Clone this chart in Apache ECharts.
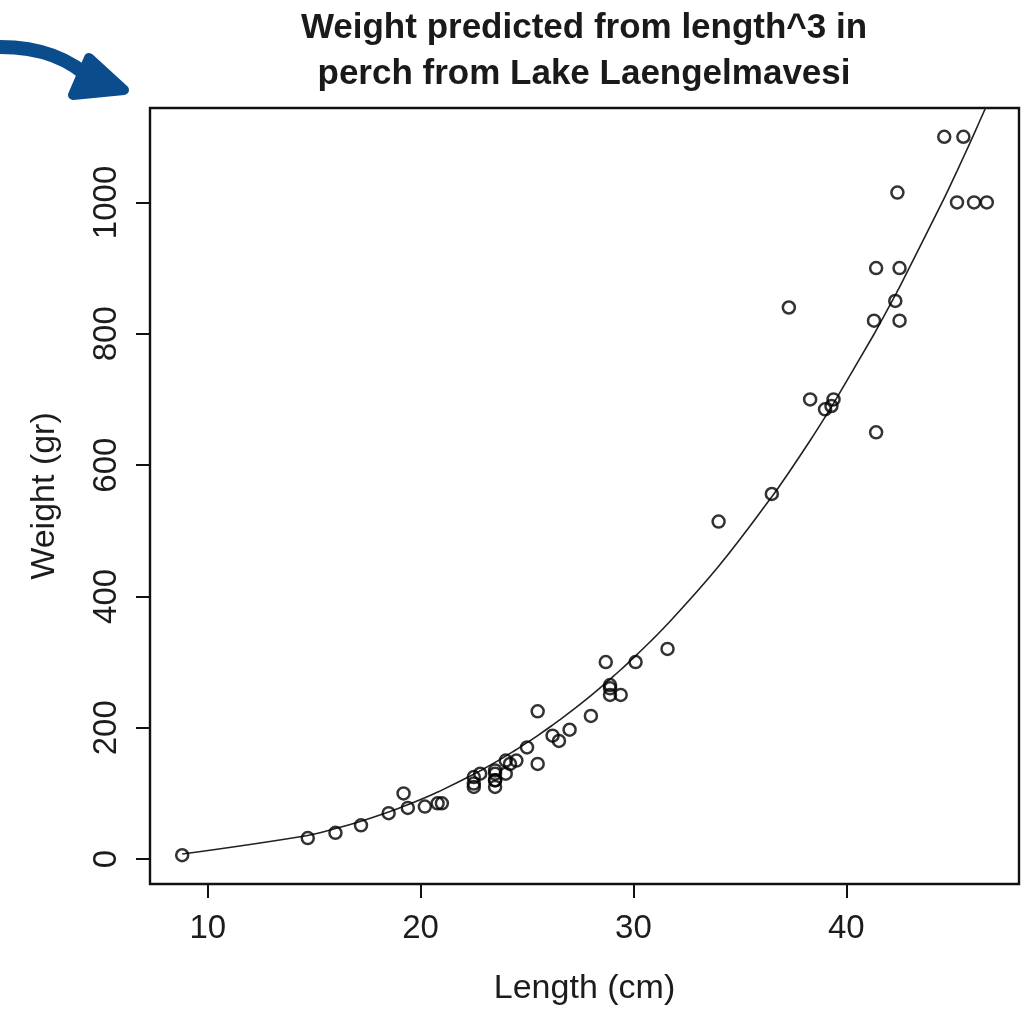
<!DOCTYPE html>
<html>
<head>
<meta charset="utf-8">
<script src="https://cdn.jsdelivr.net/npm/echarts@6/dist/echarts.min.js"></script>
<style>
html,body{margin:0;padding:0;background:#fff;}
#chart{width:1032px;height:1009px;}
</style>
</head>
<body>
<div id="chart"></div>
<script>
// Perch from Lake Laengelmavesi: length (cm) and weight (gr)
var lengths = [8.8, 14.7, 16.0, 17.2, 18.5, 19.2, 19.4, 20.2, 20.8, 21.0, 22.5, 22.5, 22.5, 22.8,
  23.5, 23.5, 23.5, 23.5, 23.5, 24.0, 24.0, 24.2, 24.5, 25.0, 25.5, 25.5, 26.2, 26.5, 27.0, 28.0,
  28.7, 28.9, 28.9, 28.9, 29.4, 30.1, 31.6, 34.0, 36.5, 37.3, 39.0, 38.3, 39.4, 39.3, 41.4, 41.4,
  41.3, 42.3, 42.5, 42.4, 42.5, 44.6, 45.2, 45.5, 46.0, 46.6];
var weights = [5.9, 32, 40, 51.5, 70, 100, 78, 80, 85, 85, 110, 115, 125, 130,
  120, 120, 130, 135, 110, 130, 150, 145, 150, 170, 225, 145, 188, 180, 197, 218,
  300, 260, 265, 250, 250, 300, 320, 514, 556, 840, 685, 700, 700, 690, 900, 650,
  820, 850, 900, 1015, 820, 1100, 1000, 1100, 1000, 1000];
var xTicks = [10, 20, 30, 40];
var yTicks = [0, 200, 400, 600, 800, 1000];

var titleLines = ['Weight predicted from length^3 in', 'perch from Lake Laengelmavesi'];

// least-squares fit: weight = b * length^3 (through origin)
var sxy = 0, sxx = 0;
for (var i = 0; i < lengths.length; i++) {
  var c = Math.pow(lengths[i], 3);
  sxy += weights[i] * c; sxx += c * c;
}
var b = sxy / sxx;
var sortedL = lengths.slice().sort(function (a, c) { return a - c; });
var fitData = [];
sortedL.forEach(function (L, k) {
  if (k === 0 || L !== sortedL[k - 1]) fitData.push([L, b * L * L * L]);
});
var pts = lengths.map(function (L, k) { return [L, weights[k]]; });

var chart = echarts.init(document.getElementById('chart'), null, {renderer: 'canvas'});
var FONT = '"Liberation Sans", Arial, Helvetica, sans-serif';
var TXT = '#1c1c1c';
var option = {
  backgroundColor: '#fff',
  animation: false,
  grid: {left: 150, right: 13, top: 108, bottom: 125, outerBoundsMode: 'none', containLabel: false,
    show: true, borderColor: '#111', borderWidth: 2.4, backgroundColor: 'transparent'},
  xAxis: {
    type: 'value', min: 7.288, max: 48.112,
    name: 'Length (cm)', nameLocation: 'middle', nameGap: 88,
    nameTextStyle: {fontFamily: FONT, fontSize: 34, color: TXT},
    axisLine: {show: false, onZero: false},
    axisTick: {show: true, length: 14, customValues: xTicks, lineStyle: {color: '#111', width: 2}},
    axisLabel: {customValues: xTicks, margin: 28, fontFamily: FONT, fontSize: 33, color: TXT},
    splitLine: {show: false}
  },
  yAxis: {
    type: 'value', min: -37.9, max: 1143.8,
    name: 'Weight (gr)', nameLocation: 'middle', nameGap: 88, nameRotate: 90,
    nameTextStyle: {fontFamily: FONT, fontSize: 34, color: TXT},
    axisLine: {show: false, onZero: false},
    axisTick: {show: true, length: 14, customValues: yTicks, lineStyle: {color: '#111', width: 2}},
    axisLabel: {customValues: yTicks, rotate: 90, margin: 27, fontFamily: FONT, fontSize: 33, color: TXT,
      formatter: function (v) { return String(v); }},
    splitLine: {show: false}
  },
  series: [
    {
      type: 'line', data: fitData, showSymbol: false, symbol: 'none', smooth: 0.4,
      lineStyle: {color: '#222', width: 1.6}, z: 2, clip: true
    },
    {
      type: 'scatter', data: pts, symbol: 'circle', symbolSize: 12,
      itemStyle: {color: 'rgba(0,0,0,0)', borderColor: '#000', borderWidth: 2.5}, z: 3
    }
  ],
  graphic: [
    {type: 'text', x: 584, y: 28, style: {text: titleLines[0], align: 'center', verticalAlign: 'middle', font: 'bold 35px ' + FONT, fill: '#1a1a1a'}},
    {type: 'text', x: 584, y: 74, style: {text: titleLines[1], align: 'center', verticalAlign: 'middle', font: 'bold 35px ' + FONT, fill: '#1a1a1a'}},
    {type: 'bezierCurve', shape: {x1: 0, y1: 47, cpx1: 40, cpy1: 47, cpx2: 70, cpy2: 58, x2: 94, y2: 82}, style: {fill: null, stroke: '#0b4d8c', lineWidth: 14, lineCap: 'butt'}},
    {type: 'polygon', shape: {points: [[89, 58], [124, 90], [73, 95]]}, style: {fill: '#0b4d8c', stroke: '#0b4d8c', lineWidth: 10, lineJoin: 'round'}}
  ]
};
chart.setOption(option);
</script>
</body>
</html>
